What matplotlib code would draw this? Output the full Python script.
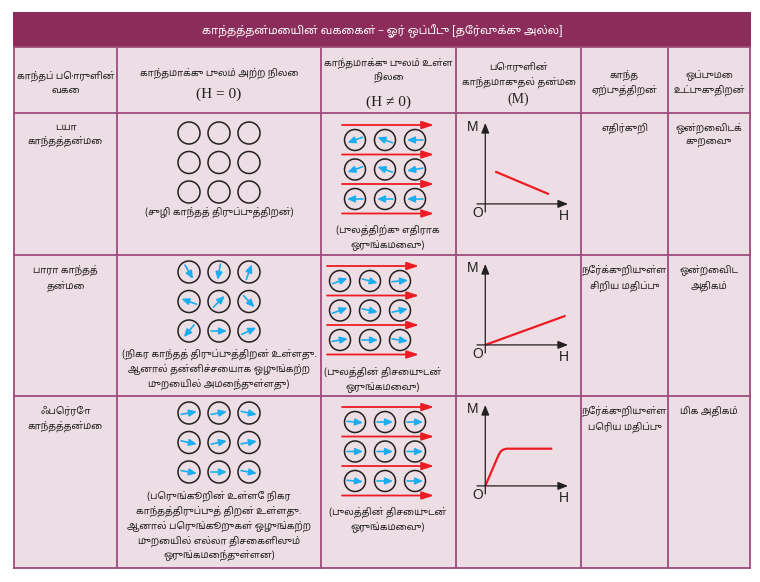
import matplotlib
matplotlib.use("Agg")
import matplotlib.pyplot as plt
from matplotlib.patches import Circle, Rectangle
import numpy as np

TAMIL = ['Noto Sans Tamil', 'DejaVu Sans']
SERIF = ['Liberation Serif', 'DejaVu Serif']
SANS = ['Liberation Sans', 'DejaVu Sans']

TITLE_BG = '#8B2C5B'
CELL_BG = '#EDDEE5'
GRID = '#9E4C7C'
RED = '#ED1C24'
BLUE = '#1AAEEF'
INK = '#231F20'
FS = 6.8  # body text size

# ---- texts ----
title = "காந்தத்தன்மையின் வகைகள் – ஓர் ஒப்பீடு [தேர்வுக்கு அல்ல]"
headers = ["காந்தப் பொருளின்\nவகை",
           "காந்தமாக்கு புலம் அற்ற நிலை",
           "காந்தமாக்கு புலம் உள்ள\nநிலை",
           "பொருளின்\nகாந்தமாகுதல் தன்மை",
           "காந்த\nஏற்புத்திறன்",
           "ஒப்புமை\nஉட்புகுதிறன்"]
header_syms = ["", "(H = 0)", "(H ≠ 0)", "(M)", "", ""]
kinds = ["டயா\nகாந்தத்தன்மை",
         "பாரா காந்தத்\nதன்மை",
         "ஃபெர்ரோ\nகாந்தத்தன்மை"]
no_field_notes = ["(சுழி காந்தத் திருப்புத்திறன்)",
                  "(நிகர காந்தத் திருப்புத்திறன் உள்ளது.\nஆனால் தன்னிச்சையாக ஒழுங்கற்ற\nமுறையில் அமைந்துள்ளது)",
                  "(பெருங்கூறின் உள்ளே நிகர\nகாந்தத்திருப்புத் திறன் உள்ளது.\nஆனால் பெருங்கூறுகள் ஒழுங்கற்ற\nமுறையில் எல்லா திசைகளிலும்\nஒருங்கமைந்துள்ளன)"]
field_notes = ["(புலத்திற்கு எதிராக\nஒருங்கமைவு)",
               "(புலத்தின் திசையுடன்\nஒருங்கமைவு)",
               "(புலத்தின் திசையுடன்\nஒருங்கமைவு)"]
susceptibility = ["எதிர்குறி",
                  "நேர்க்குறியுள்ள\nசிறிய மதிப்பு",
                  "நேர்க்குறியுள்ள\nபெரிய மதிப்பு"]
permeability = ["ஒன்றைவிடக்\nகுறைவு",
                "ஒன்றைவிட\nஅதிகம்",
                "மிக அதிகம்"]

# ---- dipole directions (degrees), 3x3 per panel; None = no moment ----
dia_free = None
dia_field = [[200, 160, 180], [200, 160, 190], [180, 180, 180]]
para_free = [[-60, -100, 70], [160, 45, -47], [-130, 0, 25]]
para_field = [[20, -15, 5], [20, -12, 12], [10, 0, -8]]
ferro_free = [[10, 10, -12], [-12, 12, 10], [-10, 0, -10]]
ferro_field = [[-5, 0, 0], [0, 0, 0], [-5, 0, 0]]

# ---- M vs H curves ----
dia_H = [0.12, 0.77]
dia_M = [0.40, 0.12]
para_H = [0.0, 0.97]
para_M = [0.0, 0.36]
ferro_H = [0.0, 0.08, 0.16, 0.19, 0.22, 0.26, 0.81]
ferro_M = [0.0, 0.19, 0.38, 0.43, 0.45, 0.46, 0.46]

# ---- layout (pixels) ----
W, H = 760, 582
col_x = [14, 117, 321, 456, 581, 668, 750]
row_y = [47, 113, 255, 396, 568]

fig = plt.figure(figsize=(W / 100, H / 100), dpi=100)
fig.patch.set_facecolor('white')
ax = fig.add_axes([0, 0, 1, 1])
ax.set_xlim(0, W)
ax.set_ylim(H, 0)
ax.axis('off')

# backgrounds and grid
ax.add_patch(Rectangle((13, 12), 738, row_y[0] - 12, fc=TITLE_BG, ec='none'))
ax.add_patch(Rectangle((col_x[0], row_y[0]), col_x[-1] - col_x[0], row_y[-1] - row_y[0],
                       fc=CELL_BG, ec='none'))
for y in row_y:
    ax.plot([col_x[0], col_x[-1]], [y, y], color=GRID, lw=1.3, solid_capstyle='projecting')
for x in col_x:
    ax.plot([x, x], [row_y[0], row_y[-1]], color=GRID, lw=1.3, solid_capstyle='projecting')

ax.text(382, 31, title, color='white', fontsize=8, family=TAMIL, ha='center', va='center')

centers = [(col_x[i] + col_x[i + 1]) / 2 for i in range(6)]

# header row
head_y = [83, 73, 71, 75, 83, 83]
sym_y = [0, 94, 102, 99, 0, 0]
for i in range(6):
    ax.text(centers[i], head_y[i], headers[i], fontsize=FS, family=TAMIL,
            ha='center', va='center', linespacing=1.5, color=INK)
    if header_syms[i]:
        ax.text(centers[i], sym_y[i], header_syms[i], fontsize=11 if i < 3 else 10,
                family=SERIF, ha='center', va='center', color=INK)

# plain text columns
for r in range(3):
    top = row_y[r + 1]
    for c, txt in [(0, kinds[r]), (4, susceptibility[r]), (5, permeability[r])]:
        ax.text(centers[c], top + 10, txt, fontsize=FS, family=TAMIL,
                ha='center', va='top', linespacing=1.5, color=INK)


def dipole(cx, cy, ang, rad):
    ax.add_patch(Circle((cx, cy), rad, fill=False, ec=INK, lw=1.1))
    if ang is None:
        return
    a = np.deg2rad(ang)
    L = 8.0
    ax.annotate('', xy=(cx + L * np.cos(a), cy - L * np.sin(a)),
                xytext=(cx - L * np.cos(a), cy + L * np.sin(a)),
                arrowprops=dict(arrowstyle='-|>,head_length=0.45,head_width=0.2',
                                color=BLUE, lw=1.2, shrinkA=0, shrinkB=0,
                                mutation_scale=10))


def field_arrow(x0, x1, y):
    ax.annotate('', xy=(x1, y), xytext=(x0, y),
                arrowprops=dict(arrowstyle='-|>,head_length=0.4,head_width=0.13',
                                color=RED, lw=1.3, shrinkA=0, shrinkB=0,
                                mutation_scale=18))


# no-field column
free_sets = [dia_free, para_free, ferro_free]
free_y0 = [133, 272, 413]
free_x = [189, 219, 249]
for r in range(3):
    for i in range(3):
        for j in range(3):
            ang = None if free_sets[r] is None else free_sets[r][i][j]
            dipole(free_x[j], free_y0[r] + 29.5 * i, ang, 11)
note_y = [212, 369, 526]
for r in range(3):
    ax.text(centers[1], note_y[r], no_field_notes[r], fontsize=FS, family=TAMIL,
            ha='center', va='center', linespacing=1.45, color=INK)

# field column
field_sets = [dia_field, para_field, ferro_field]
arrow_x0 = [342, 327, 342]
arrow_y0 = [125, 266, 407]
for r in range(3):
    x0, y0 = arrow_x0[r], arrow_y0[r]
    for k in range(4):
        field_arrow(x0, x0 + 92, y0 + 29.5 * k)
    for i in range(3):
        for j in range(3):
            dipole(x0 + 13 + 30 * j, y0 + 15 + 29.5 * i, field_sets[r][i][j], 10.5)
fnote_y = [238, 380, 520]
fnote_x = [388, 383, 388]
for r in range(3):
    ax.text(fnote_x[r], fnote_y[r], field_notes[r], fontsize=FS, family=TAMIL,
            ha='center', va='center', linespacing=1.45, color=INK)

# M-H graphs
curves = [(dia_H, dia_M), (para_H, para_M), (ferro_H, ferro_M)]
graph_top = [123, 264, 405]
for r in range(3):
    gx = fig.add_axes([477 / W, 1 - (graph_top[r] + 89) / H, 91 / W, 89 / H])
    gx.set_xlim(-0.1, 1.0)
    gx.set_ylim(-0.1, 1.0)
    gx.axis('off')
    gx.patch.set_alpha(0)
    for tail, head in [((-0.1, 0), (1.0, 0)), ((0, -0.1), (0, 1.0))]:
        gx.annotate('', xy=head, xytext=tail,
                    arrowprops=dict(arrowstyle='-|>,head_length=0.5,head_width=0.2',
                                    color=INK, lw=0.9, shrinkA=0, shrinkB=0,
                                    mutation_scale=12))
    hh, mm = curves[r]
    gx.plot(hh, mm, color=RED, lw=1.6, solid_capstyle='butt')
    gx.text(-0.15, 0.95, 'M', family=SANS, fontsize=10, ha='center', va='center', color=INK)
    gx.text(-0.085, -0.11, 'O', family=SANS, fontsize=10, ha='center', va='center', color=INK)
    gx.text(0.955, -0.15, 'H', family=SANS, fontsize=10, ha='center', va='center', color=INK)

fig.savefig('out.png', dpi=100, facecolor='white')
